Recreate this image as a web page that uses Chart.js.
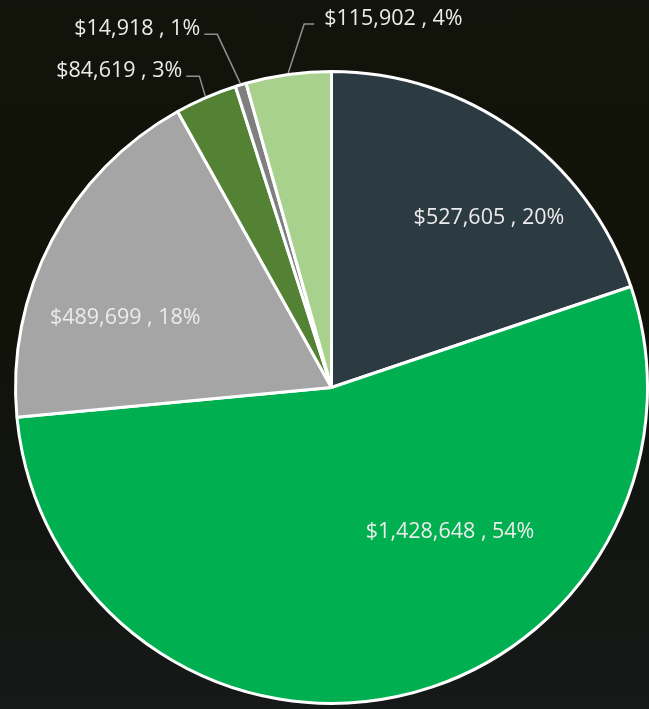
<!DOCTYPE html>
<html>
<head>
<meta charset="utf-8">
<script src="https://cdn.jsdelivr.net/npm/chart.js@4"></script>
<style>
  html, body { margin: 0; padding: 0; }
  body {
    width: 649px; height: 709px; overflow: hidden;
    background: linear-gradient(180deg, #12130a 0%, #111309 45%, #131512 75%, #171918 100%);
  }
  canvas { display: block; }
</style>
</head>
<body>
<canvas id="pie" width="649" height="709"></canvas>
<script>
const categories = ['Slate', 'Green', 'Gray', 'Dark green', 'Dark gray', 'Light green'];
const amounts = [527605, 1428648, 489699, 84619, 14918, 115902];
const colors = ['#2c3a42', '#00b050', '#a5a5a5', '#548235', '#7f7f7f', '#a9d18e'];

// where each label sits: inside the slice, or outside on a leader line
const labelPlacement = [
  { inside: true, turn: 7, reach: 0.735 },
  { inside: true, turn: -27.5, reach: 0.59 },
  { inside: true, turn: -8.8, reach: 0.69 },
  { elbow: [-6, -20], run: -13 },
  { elbow: [-23, -49], run: -13 },
  { elbow: [16, -49], run: 10 },
];

const total = amounts.reduce((a, b) => a + b, 0);
const labelText = (v) => '$' + v.toLocaleString('en-US') + ' , ' + Math.round(v / total * 100) + '%';

const sliceLabels = {
  id: 'sliceLabels',
  afterDatasetsDraw(chart) {
    const ctx = chart.ctx;
    const meta = chart.getDatasetMeta(0);
    ctx.save();
    ctx.font = '21.5px "Open Sans", sans-serif';
    meta.data.forEach((arc, i) => {
      const { x, y, startAngle, endAngle, outerRadius } = arc.getProps(['x', 'y', 'startAngle', 'endAngle', 'outerRadius'], true);
      const mid = (startAngle + endAngle) / 2;
      const p = labelPlacement[i];
      const text = labelText(amounts[i]);
      if (p.inside) {
        const a = mid + p.turn * Math.PI / 180;
        const r = outerRadius * p.reach;
        ctx.fillStyle = '#ececec';
        ctx.textAlign = 'center';
        ctx.textBaseline = 'middle';
        ctx.fillText(text, x + Math.cos(a) * r, y + Math.sin(a) * r + 1);
      } else {
        const r = outerRadius + 1.5;
        const ax = x + Math.cos(mid) * r;
        const ay = y + Math.sin(mid) * r;
        const ex = ax + p.elbow[0];
        const ey = ay + p.elbow[1];
        const hx = ex + p.run;
        ctx.strokeStyle = '#8f8f8f';
        ctx.lineWidth = 1.5;
        ctx.beginPath();
        ctx.moveTo(ax, ay);
        ctx.lineTo(ex, ey);
        ctx.lineTo(hx, ey);
        ctx.stroke();
        ctx.fillStyle = '#ececec';
        ctx.textBaseline = 'alphabetic';
        if (p.run < 0) {
          ctx.textAlign = 'right';
          ctx.fillText(text, hx - 4, ey + 1);
        } else {
          ctx.textAlign = 'left';
          ctx.fillText(text, hx + 10, ey + 1);
        }
      }
    });
    ctx.restore();
  }
};

new Chart(document.getElementById('pie'), {
  type: 'pie',
  data: {
    labels: categories,
    datasets: [{
      data: amounts,
      backgroundColor: colors,
      borderColor: '#ffffff',
      borderWidth: 3,
    }],
  },
  options: {
    responsive: false,
    animation: false,
    layout: { padding: { left: 14, right: 0, top: 70, bottom: 4 } },
    plugins: {
      legend: { display: false },
      tooltip: { enabled: false },
    },
  },
  plugins: [sliceLabels],
});
</script>
</body>
</html>
